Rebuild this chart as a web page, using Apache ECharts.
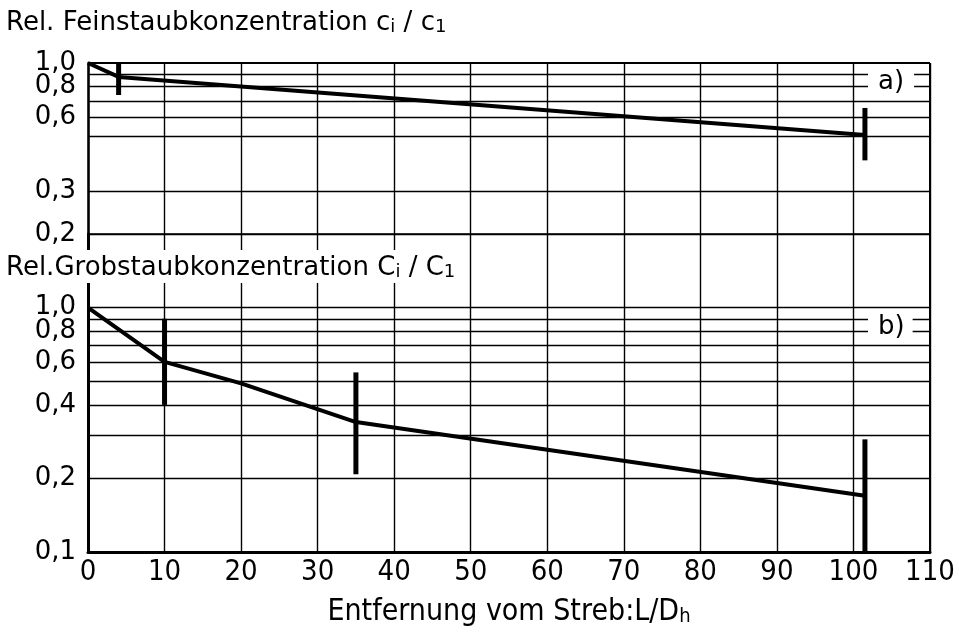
<!DOCTYPE html>
<html>
<head>
<meta charset="utf-8">
<script src="https://cdn.jsdelivr.net/npm/echarts@6/dist/echarts.min.js"></script>
<style>html,body{margin:0;padding:0;background:#fff}#c{width:959px;height:632px}</style>
</head>
<body>
<div id="c"></div>
<script>
// ---- data ----
var xTicks = [0, 10, 20, 30, 40, 50, 60, 70, 80, 90, 100, 110];
// a) fine dust
var fineX = [0, 4, 101.5];
var fineY = [1.0, 0.877, 0.508];
var fineErrX = [4, 101.5];
var fineErrLo = [0.74, 0.40];
var fineErrHi = [1.0, 0.655];
var fineGrid = [1.0, 0.9, 0.8, 0.7, 0.6, 0.5, 0.3, 0.2];
var fineLabels = {'1': '1,0', '0.8': '0,8', '0.6': '0,6', '0.3': '0,3', '0.2': '0,2'};
// b) coarse dust
var coarseX = [0, 10, 20, 35, 101.5];
var coarseY = [1.0, 0.6, 0.49, 0.34, 0.17];
var coarseErrX = [10, 35, 101.5];
var coarseErrLo = [0.40, 0.208, 0.1];
var coarseErrHi = [0.90, 0.543, 0.289];
var coarseGrid = [1.0, 0.9, 0.8, 0.7, 0.6, 0.5, 0.4, 0.3, 0.2, 0.1];
var coarseLabels = {'1': '1,0', '0.8': '0,8', '0.6': '0,6', '0.4': '0,4', '0.2': '0,2', '0.1': '0,1'};

var titleA = ['Rel. Feinstaubkonzentration c', 'i', ' / c', '1'];
var titleB = ['Rel.Grobstaubkonzentration C', 'i', ' / C', '1'];
var xName = ['Entfernung vom Streb:L/D', 'h'];

// ---- build ----
var chart = echarts.init(document.getElementById('c'), null, {renderer: 'canvas'});
var numFont = 'DejaVu Sans';
var narrowFont = '"Liberation Sans Narrow","DejaVu Sans Condensed",sans-serif';

function pairs(xs, ys) { return xs.map(function (x, i) { return [x, ys[i]]; }); }
function errData(xs, lo, hi) { return xs.map(function (x, i) { return [x, lo[i], hi[i]]; }); }

function gridLines(vals, labels, isTop) {
  var d = vals.map(function (v) {
    var key = String(v);
    var lab = labels[key];
    var w = 1.4;
    if (isTop && v === 1.0) w = 2.2;
    return {
      yAxis: v,
      lineStyle: {color: '#000', width: w, type: 'solid'},
      label: lab ? {show: true, position: 'start', formatter: lab, distance: 12,
        color: '#000', fontFamily: numFont, fontSize: 26, padding: [0, 0, 5, 0]} : {show: false}
    };
  });
  d.push({xAxis: 110, lineStyle: {color: '#000', width: 2, type: 'solid'}, label: {show: false}});
  return d;
}

function errRender(params, api) {
  var x = api.value(0);
  var p1 = api.coord([x, api.value(2)]);
  var p2 = api.coord([x, api.value(1)]);
  var w = 5;
  return {type: 'rect', shape: {x: p1[0] - w / 2, y: p1[1], width: w, height: p2[1] - p1[1]},
    style: {fill: '#000'}};
}

var xCommon = {
  type: 'value', min: 0, max: 110, interval: 10,
  axisTick: {show: false},
  splitLine: {show: true, lineStyle: {color: '#000', width: 1.4}}
};

var option = {
  animation: false,
  backgroundColor: '#fff',
  grid: [
    {left: 88, right: 29, top: 63, height: 171},
    {left: 88, right: 29, top: 234, height: 318}
  ],
  xAxis: [
    Object.assign({}, xCommon, {gridIndex: 0, axisLabel: {show: false},
      axisLine: {show: true, lineStyle: {color: '#000', width: 1.5}}}),
    Object.assign({}, xCommon, {gridIndex: 1,
      axisLine: {show: true, onZero: false, lineStyle: {color: '#000', width: 3}},
      axisLabel: {show: true, color: '#000', fontFamily: narrowFont, fontSize: 29, margin: 6,
        formatter: function (v) { return xTicks.indexOf(v) >= 0 ? String(v) : ''; }},
      name: '{m|' + xName[0] + '}{s|' + xName[1] + '}',
      nameLocation: 'middle', nameGap: 45,
      nameTextStyle: {rich: {
        m: {fontFamily: narrowFont, fontSize: 30, color: '#000'},
        s: {fontFamily: narrowFont, fontSize: 20, color: '#000', verticalAlign: 'bottom'}
      }}
    })
  ],
  yAxis: [
    {type: 'log', logBase: 10, min: 0.2, max: 1, gridIndex: 0,
      axisLine: {show: true, onZero: false, lineStyle: {color: '#000', width: 2.5}},
      axisTick: {show: false}, axisLabel: {show: false}, splitLine: {show: false}},
    {type: 'log', logBase: 10, min: 0.1, max: 2, gridIndex: 1,
      axisLine: {show: true, onZero: false, lineStyle: {color: '#000', width: 3}},
      axisTick: {show: false}, axisLabel: {show: false}, splitLine: {show: false}}
  ],
  series: [
    {type: 'line', xAxisIndex: 0, yAxisIndex: 0, data: [], z: 1, silent: true,
      markLine: {silent: true, symbol: ['none', 'none'], animation: false, z: 1,
        data: gridLines(fineGrid, fineLabels, true)}},
    {type: 'line', xAxisIndex: 1, yAxisIndex: 1, data: [], z: 1, silent: true,
      markLine: {silent: true, symbol: ['none', 'none'], animation: false, z: 1,
        data: gridLines(coarseGrid, coarseLabels, false)}},
    {type: 'line', name: 'a', xAxisIndex: 0, yAxisIndex: 0, data: pairs(fineX, fineY),
      showSymbol: false, symbol: 'none', z: 10, lineStyle: {color: '#000', width: 4}},
    {type: 'line', name: 'b', xAxisIndex: 1, yAxisIndex: 1, data: pairs(coarseX, coarseY),
      showSymbol: false, symbol: 'none', z: 10, lineStyle: {color: '#000', width: 4}},
    {type: 'custom', xAxisIndex: 0, yAxisIndex: 0, z: 11, renderItem: errRender,
      encode: {x: 0, y: [1, 2]}, data: errData(fineErrX, fineErrLo, fineErrHi)},
    {type: 'custom', xAxisIndex: 1, yAxisIndex: 1, z: 11, renderItem: errRender,
      encode: {x: 0, y: [1, 2]}, data: errData(coarseErrX, coarseErrLo, coarseErrHi)}
  ],
  graphic: [
    {type: 'text', left: 6, top: 10, z: 50, style: {
      text: '{m|' + titleA[0] + '}{s|' + titleA[1] + '}{m|' + titleA[2] + '}{s|' + titleA[3] + '}',
      rich: {m: {fontFamily: 'DejaVu Sans', fontSize: 26, fill: '#000'},
             s: {fontFamily: 'DejaVu Sans', fontSize: 18, fill: '#000', verticalAlign: 'bottom'}},
      fill: '#000'}},
    {type: 'text', left: 0, top: 250, z: 50, style: {
      text: '{m|' + titleB[0] + '}{s|' + titleB[1] + '}{m|' + titleB[2] + '}{s|' + titleB[3] + '}',
      rich: {m: {fontFamily: 'DejaVu Sans', fontSize: 26, fill: '#000'},
             s: {fontFamily: 'DejaVu Sans', fontSize: 18, fill: '#000', verticalAlign: 'bottom'}},
      backgroundColor: '#fff', padding: [5, 4, 2, 6], fill: '#000'}},
    {type: 'text', left: 868, top: 69, z: 50, style: {
      text: 'a)', fontFamily: 'DejaVu Sans', fontSize: 26, fill: '#000',
      backgroundColor: '#fff', padding: [0, 10, 0, 10]}},
    {type: 'text', left: 868, top: 314, z: 50, style: {
      text: 'b)', fontFamily: 'DejaVu Sans', fontSize: 26, fill: '#000',
      backgroundColor: '#fff', padding: [0, 8, 0, 10]}}
  ]
};
chart.setOption(option);
</script>
</body>
</html>
